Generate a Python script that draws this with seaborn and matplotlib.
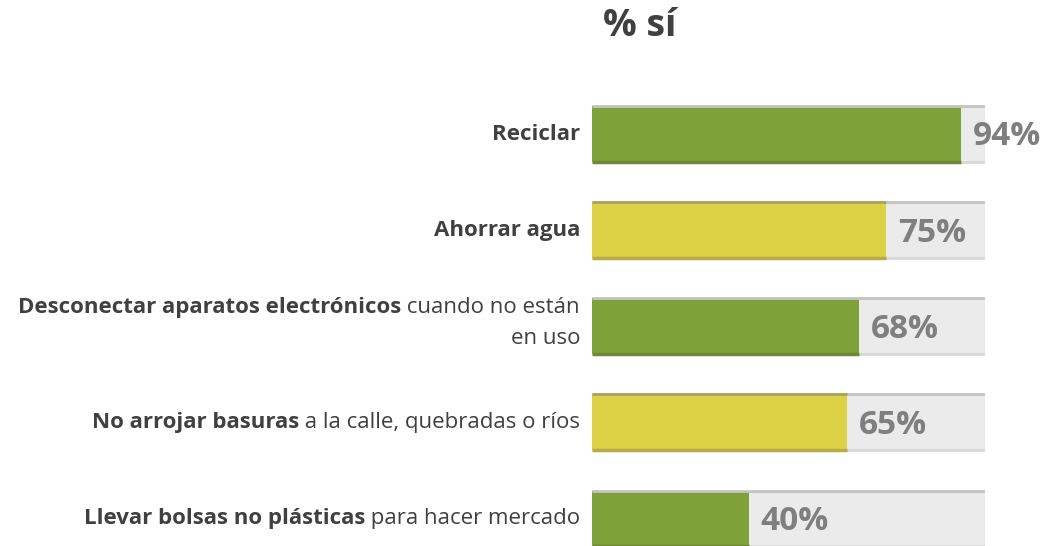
import matplotlib
matplotlib.use("Agg")
import matplotlib.pyplot as plt
import seaborn as sns
import pandas as pd

# data
bold_parts = ["Reciclar", "Ahorrar agua", "Desconectar aparatos electrónicos",
              "No arrojar basuras", "Llevar bolsas no plásticas"]
normal_parts = ["", "", " cuando no están\nen uso", " a la calle, quebradas o ríos",
                " para hacer mercado"]
values = [94, 75, 68, 65, 40]
bar_colors = ["#7fa13a", "#ddd246", "#7fa13a", "#ddd246", "#7fa13a"]

sns.set_theme(style="white")
plt.rcParams["font.family"] = ["Open Sans", "DejaVu Sans"]

df = pd.DataFrame({"item": bold_parts, "valor": values, "total": [100] * len(values)})

fig = plt.figure(figsize=(10.42, 5.46), dpi=100)
ax = fig.add_axes([0.568, 0.0, 0.377, 0.8425])

width = 0.58
# grey background track
sns.barplot(data=df, x="total", y="item", color="#ebebeb", width=width,
            saturation=1, linewidth=0, ax=ax)
n_bg = len(ax.patches)
sns.barplot(data=df, x="valor", y="item", hue="item", palette=bar_colors,
            width=width, saturation=1, linewidth=0, legend=False, ax=ax)

# top / bottom edge lines for a bit of depth
for i, p in enumerate(ax.patches):
    x0, y0, w, h = p.get_x(), p.get_y(), p.get_width(), p.get_height()
    if i < n_bg:
        ax.plot([x0, x0 + w], [y0, y0], color="#c3c3c3", lw=2, solid_capstyle="butt")
        ax.plot([x0, x0 + w], [y0 + h, y0 + h], color="#d8d8d8", lw=2, solid_capstyle="butt")
    else:
        dark = "#6d8a33" if p.get_facecolor()[1] < 0.75 else "#b8ad45"
        ax.plot([x0, x0 + w], [y0 + h, y0 + h], color=dark, lw=2.5, solid_capstyle="butt")
        if dark == "#b8ad45":
            ax.plot([x0, x0 + w], [y0, y0], color="#a9a457", lw=2, solid_capstyle="butt")

# percentage labels
for i, v in enumerate(values):
    ax.text(v + 3.0, i + 0.03, f"{v}%", color="#7f7f7f", fontsize=24,
            fontweight="bold", ha="left", va="center", clip_on=False)

ax.set_xlim(0, 100)
ax.set_ylim(4.287, -0.5)
ax.set_xlabel("")
ax.set_ylabel("")
ax.set_xticks([])
ax.set_yticks([])
sns.despine(ax=ax, left=True, bottom=True)

fs = 16
# category labels: bold part followed by normal part
for i, (b, n) in enumerate(zip(bold_parts, normal_parts)):
    if n == "":
        ax.annotate(b, xy=(-0.03, i), xycoords=("axes fraction", "data"),
                    ha="right", va="center", fontsize=fs, fontweight="bold",
                    color="#404040", annotation_clip=False)
    elif "\n" in n:
        first, second = n.split("\n")
        t1 = ax.annotate(first, xy=(-0.03, i - 0.2), xycoords=("axes fraction", "data"),
                         ha="right", va="center", fontsize=fs, color="#404040",
                         annotation_clip=False)
        ax.annotate(b, xy=(0, 0.5), xycoords=t1, ha="right", va="center",
                    fontsize=fs, fontweight="bold", color="#404040")
        ax.annotate(second, xy=(-0.03, i + 0.13), xycoords=("axes fraction", "data"),
                    ha="right", va="center", fontsize=fs, color="#404040",
                    annotation_clip=False)
    else:
        t1 = ax.annotate(n, xy=(-0.03, i), xycoords=("axes fraction", "data"),
                         ha="right", va="center", fontsize=fs, color="#404040",
                         annotation_clip=False)
        ax.annotate(b, xy=(0, 0.5), xycoords=t1, ha="right", va="center",
                    fontsize=fs, fontweight="bold", color="#404040")

fig.text(0.614, 0.952, "% sí", ha="center", va="center", fontsize=27,
         fontweight="bold", color="#404040")

plt.savefig("out.png", dpi=100)
